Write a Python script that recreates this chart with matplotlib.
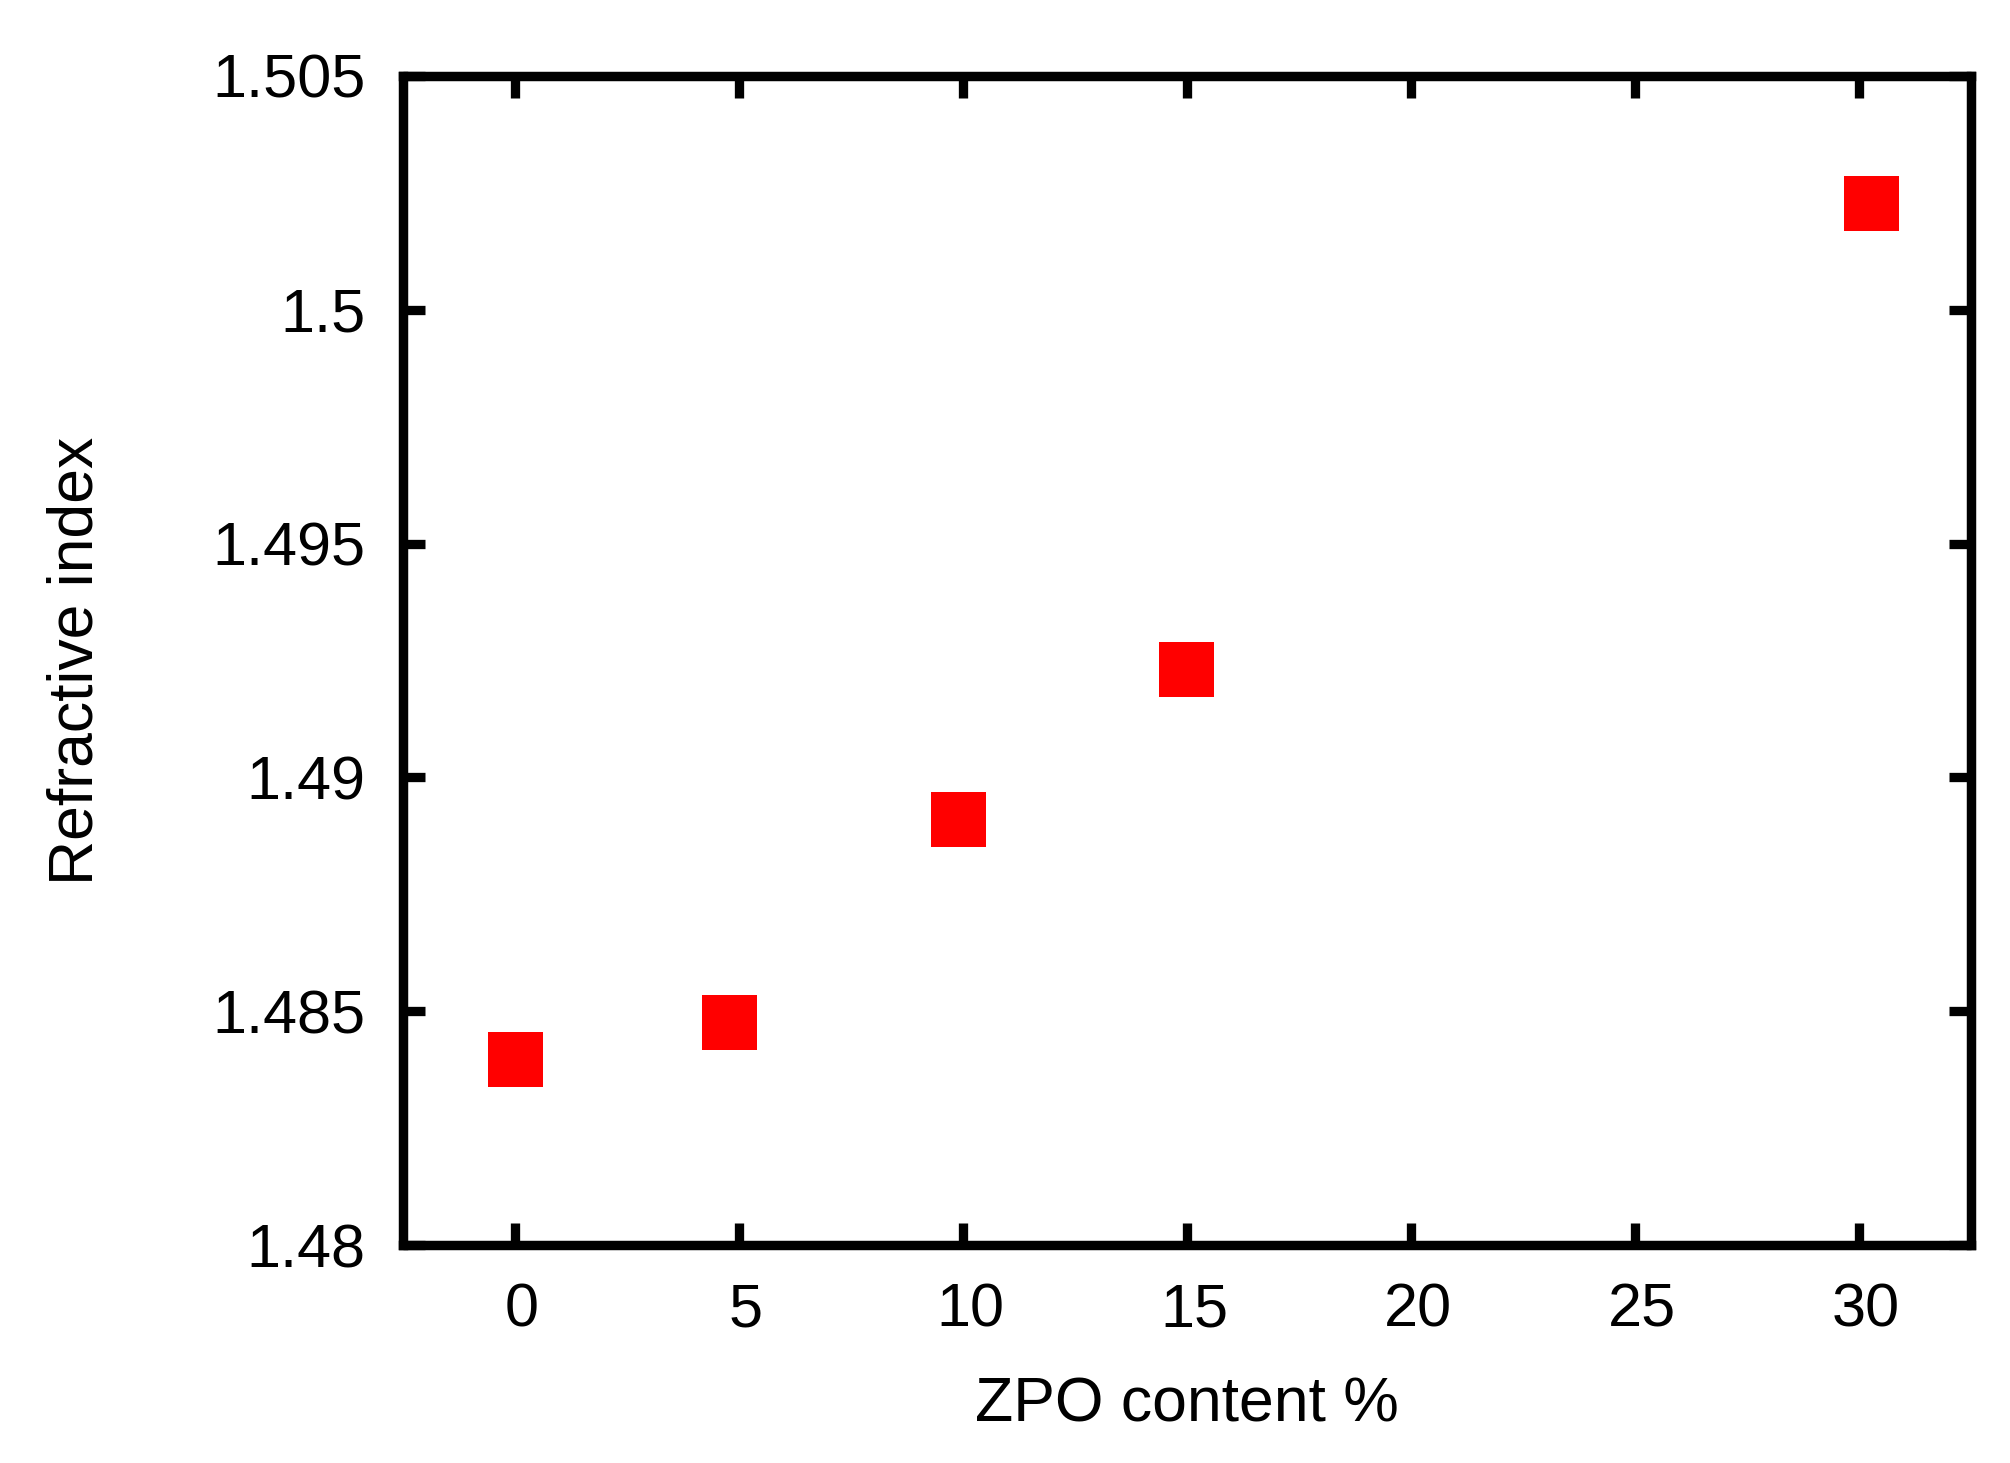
import matplotlib
matplotlib.use('Agg')
import matplotlib.pyplot as plt
from matplotlib.transforms import ScaledTranslation

# Data
zpo_content = [0.0, 4.77, 9.89, 14.98, 30.26]
refractive_index = [1.48398, 1.48477, 1.48911, 1.49231, 1.50228]

x_ticks = [0, 5, 10, 15, 20, 25, 30]
x_tick_labels = ['0', '5', '10', '15', '20', '25', '30']
y_ticks = [1.48, 1.485, 1.49, 1.495, 1.5, 1.505]
y_tick_labels = ['1.48', '1.485', '1.49', '1.495', '1.5', '1.505']

plt.rcParams['font.family'] = ['Liberation Sans', 'DejaVu Sans']

W, H = 2010, 1463
fig = plt.figure(figsize=(W / 100, H / 100), dpi=100)
ax = fig.add_axes([403 / W, 1 - 1245 / H, (1971 - 403) / W, (1245 - 76) / H])

ax.plot(zpo_content, refractive_index, linestyle='none', marker='s',
        markersize=39.6, color='#ff0000', markeredgewidth=0)

ax.set_xlim(-2.5, 32.5)
ax.set_ylim(1.48, 1.505)
ax.set_xticks(x_ticks)
ax.set_xticklabels(x_tick_labels)
ax.set_yticks(y_ticks)
ax.set_yticklabels(y_tick_labels)

for s in ax.spines.values():
    s.set_linewidth(6.8)
    s.set_color('black')

ax.tick_params(axis='both', which='major', direction='in', length=16, width=6.7,
               labelsize=44, pad=27, top=True, right=True, color='black')

shift = ScaledTranslation(7 / 100, 0, fig.dpi_scale_trans)
for lab in ax.get_xticklabels():
    lab.set_transform(lab.get_transform() + shift)

ax.set_xlabel('ZPO content %', fontsize=45, labelpad=26)
ax.set_ylabel('Refractive index', fontsize=45, labelpad=77)

fig.savefig('out.png', dpi=100, facecolor='white')
